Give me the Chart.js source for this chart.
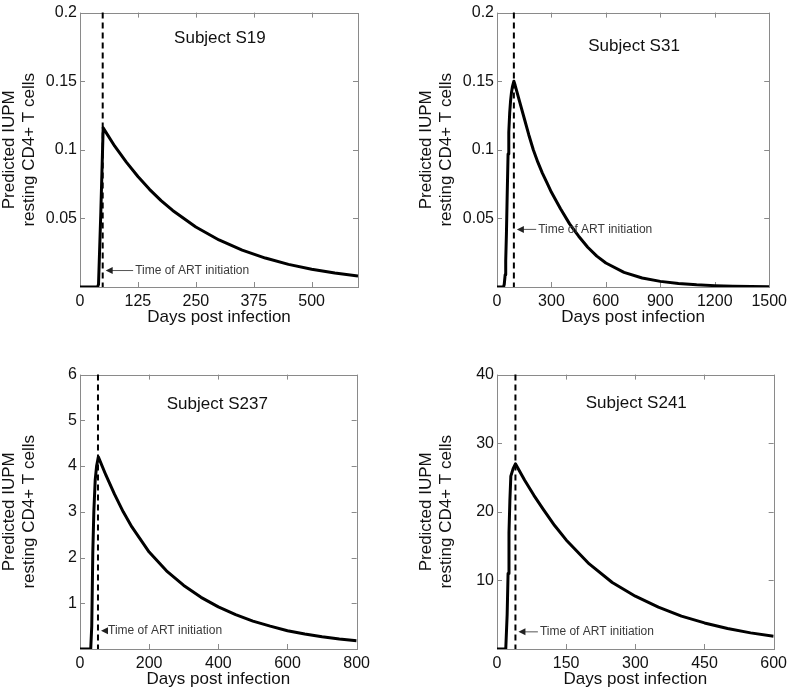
<!DOCTYPE html>
<html>
<head>
<meta charset="utf-8">
<script src="https://cdn.jsdelivr.net/npm/chart.js@4.4.1/dist/chart.umd.min.js"></script>
<style>
  body { margin: 0; background: #fff; width: 792px; height: 690px; position: relative; overflow: hidden; }
  canvas { position: absolute; }
</style>
</head>
<body>
<canvas id="c19" width="375" height="330" style="left:0px;top:0px"></canvas>
<canvas id="c31" width="375" height="330" style="left:417px;top:0px"></canvas>
<canvas id="c237" width="375" height="328" style="left:0px;top:362px"></canvas>
<canvas id="c241" width="375" height="328" style="left:417px;top:362px"></canvas>
<script>
// values: days post infection vs predicted IUPM
const s19Days = [0, 38, 40, 45, 50, 75, 100, 125, 150, 175, 200, 250, 300, 350, 400, 450, 500, 550, 600];
const s19Iupm = [0, 0, 0.002, 0.055, 0.116, 0.1026, 0.091, 0.0805, 0.0712, 0.063, 0.0558, 0.0437, 0.0343, 0.0269, 0.0211, 0.0165, 0.013, 0.0102, 0.008];

const s31Days = [0, 36, 40, 45, 48, 52, 56, 61, 65, 70, 75, 80, 85, 93, 100, 125, 150, 175, 200, 225, 250, 275, 300,
                 350, 400, 450, 500, 550, 600, 700, 800, 900, 1000, 1100, 1200, 1300, 1400, 1500];
const s31Iupm = [0, 0, 0.002, 0.009, 0.019, 0.039, 0.066, 0.097, 0.113, 0.127, 0.136, 0.142, 0.146, 0.150, 0.147, 0.135, 0.123, 0.111, 0.100, 0.091, 0.083, 0.076, 0.069,
                 0.057, 0.046, 0.037, 0.029, 0.0225, 0.0175, 0.0107, 0.0066, 0.0041, 0.0026, 0.0016, 0.001, 0.0006, 0.0004, 0.0002];

const s237Days = [0, 31, 34, 37, 40, 44, 48, 53, 75, 100, 125, 150, 200, 250, 300, 350, 400, 450, 500, 550, 600, 650, 700, 750, 800];
const s237Iupm = [0, 0, 0.5, 2.1, 3.0, 3.7, 4.0, 4.2, 3.8, 3.38, 3.0, 2.67, 2.12, 1.71, 1.39, 1.13, 0.92, 0.75, 0.61, 0.5, 0.4, 0.33, 0.27, 0.22, 0.18];

const s241Days = [0, 19, 22, 24, 26, 28, 30, 35, 40, 60, 80, 100, 125, 150, 200, 250, 300, 350, 400, 450, 500, 550, 600];
const s241Iupm = [0, 0, 5, 11, 17, 21.8, 25.2, 26.3, 27.0, 24.6, 22.4, 20.4, 18.0, 15.9, 12.4, 9.7, 7.7, 6.1, 4.8, 3.8, 3.0, 2.35, 1.85];

// day of ART initiation per subject
const artDays = { S19: 49, S31: 93, S237: 52, S241: 40 };

// tick labels
const s19XTicks = [0, 125, 250, 375, 500];
const s31XTicks = [0, 300, 600, 900, 1200, 1500];
const s237XTicks = [0, 200, 400, 600, 800];
const s241XTicks = [0, 150, 300, 450, 600];
const smallYTicks = [0.05, 0.1, 0.15, 0.2];
const s237YTicks = [1, 2, 3, 4, 5, 6];
const s241YTicks = [10, 20, 30, 40];

const FONT = "'Liberation Sans', Arial, Helvetica, sans-serif";

const panels = [
  { id: 'c19', name: 'S19', days: s19Days, iupm: s19Iupm, xMax: 600, yMax: 0.2, xTicks: s19XTicks, yTicks: smallYTicks,
    titleAt: [302, 0.181], noteAt: [119, 0.012], top: 9 },
  { id: 'c31', name: 'S31', days: s31Days, iupm: s31Iupm, xMax: 1500, yMax: 0.2, xTicks: s31XTicks, yTicks: smallYTicks,
    titleAt: [755, 0.1755], noteAt: [227, 0.042], top: 9 },
  { id: 'c237', name: 'S237', days: s237Days, iupm: s237Iupm, xMax: 800, yMax: 6, xTicks: s237XTicks, yTicks: s237YTicks,
    titleAt: [397, 5.34], noteAt: [81, 0.4], top: 10.7 },
  { id: 'c241', name: 'S241', days: s241Days, iupm: s241Iupm, xMax: 600, yMax: 40, xTicks: s241XTicks, yTicks: s241YTicks,
    titleAt: [302, 35.8], noteAt: [93, 2.5], top: 10.7 }
];

// box + inward tick marks (drawn under the curve)
const framePlugin = {
  id: 'frame',
  beforeDatasetsDraw(chart) {
    const { ctx, chartArea: a, scales: { x, y } } = chart;
    ctx.save();
    ctx.strokeStyle = '#8a8a8a';
    ctx.lineWidth = 1;
    ctx.beginPath();
    x.ticks.forEach(t => {
      const px = Math.round(x.getPixelForValue(t.value)) + 0.5;
      ctx.moveTo(px, a.bottom); ctx.lineTo(px, a.bottom - 5);
      ctx.moveTo(px, a.top); ctx.lineTo(px, a.top + 5);
    });
    y.ticks.forEach(t => {
      const py = Math.round(y.getPixelForValue(t.value)) + 0.5;
      ctx.moveTo(a.left, py); ctx.lineTo(a.left + 5, py);
      ctx.moveTo(a.right, py); ctx.lineTo(a.right - 5, py);
    });
    ctx.stroke();
    ctx.strokeRect(Math.round(a.left) + 0.5, Math.round(a.top) + 0.5, Math.round(a.width), Math.round(a.height));
    ctx.restore();
  },
  afterDraw(chart, args, opts) {
    const { ctx, chartArea: a, scales: { x, y } } = chart;
    const p = opts.panel;
    ctx.save();
    // ART initiation dashed line
    const ax = x.getPixelForValue(artDays[p.name]);
    ctx.strokeStyle = '#000';
    ctx.lineWidth = 2;
    ctx.setLineDash([6, 4]);
    ctx.beginPath();
    ctx.moveTo(ax, a.top);
    ctx.lineTo(ax, a.bottom);
    ctx.stroke();
    ctx.setLineDash([]);

    // note with arrow
    const tx = x.getPixelForValue(p.noteAt[0]);
    const ty = y.getPixelForValue(p.noteAt[1]);
    const tip = ax + 3;
    ctx.strokeStyle = '#555';
    ctx.lineWidth = 1;
    ctx.beginPath();
    ctx.moveTo(tx - 2, ty);
    ctx.lineTo(tip + 2, ty);
    ctx.stroke();
    ctx.fillStyle = '#222';
    ctx.beginPath();
    ctx.moveTo(tip, ty);
    ctx.lineTo(tip + 7, ty - 3.5);
    ctx.lineTo(tip + 7, ty + 3.5);
    ctx.closePath();
    ctx.fill();
    ctx.fillStyle = '#3a3a3a';
    ctx.font = '12px ' + FONT;
    ctx.textAlign = 'left';
    ctx.textBaseline = 'middle';
    ctx.fillText('Time of ART initiation', tx, ty);

    // subject title inside the box
    ctx.fillStyle = '#111';
    ctx.font = '17px ' + FONT;
    ctx.textAlign = 'center';
    ctx.fillText('Subject ' + p.name, x.getPixelForValue(p.titleAt[0]), y.getPixelForValue(p.titleAt[1]));
    ctx.restore();
  }
};

const fmt = v => String(Math.round(v * 1000) / 1000);

panels.forEach(p => {
  const canvas = document.getElementById(p.id);
  const xAxisH = canvas.height - 287;
  new Chart(canvas, {
    type: 'line',
    data: {
      datasets: [{
        data: p.days.map((d, i) => ({ x: d, y: p.iupm[i] })),
        borderColor: '#000',
        borderWidth: 3,
        borderJoinStyle: 'round',
        pointRadius: 0,
        tension: 0,
        fill: false
      }]
    },
    options: {
      responsive: false,
      animation: false,
      layout: { padding: { left: 0, right: 17, top: p.top, bottom: 0 } },
      plugins: { legend: { display: false }, tooltip: { enabled: false }, frame: { panel: p } },
      scales: {
        x: {
          type: 'linear',
          min: 0, max: p.xMax,
          afterBuildTicks: s => { s.ticks = p.xTicks.map(v => ({ value: v })); },
          afterFit: s => { s.height = xAxisH; },
          grid: { display: false, drawTicks: false },
          border: { display: false },
          ticks: { color: '#111', padding: 5, maxRotation: 0, autoSkip: false, font: { family: FONT, size: 16 }, callback: fmt },
          title: { display: true, text: 'Days post infection', color: '#111',
                   font: { family: FONT, size: 17, lineHeight: 1.15 }, padding: { top: 0, bottom: xAxisH - 40 } }
        },
        y: {
          min: 0, max: p.yMax,
          afterBuildTicks: s => { s.ticks = p.yTicks.map(v => ({ value: v })); },
          afterFit: s => { s.width = 80; },
          grid: { display: false, drawTicks: false },
          border: { display: false },
          ticks: { color: '#111', padding: 3, autoSkip: false, font: { family: FONT, size: 16 }, callback: fmt },
          title: { display: true, text: ['Predicted IUPM', 'resting CD4+ T cells'], color: '#111',
                   font: { family: FONT, size: 17, lineHeight: 1.15 }, padding: { top: 0, bottom: 0 } }
        }
      }
    },
    plugins: [framePlugin]
  });
});
</script>
</body>
</html>
